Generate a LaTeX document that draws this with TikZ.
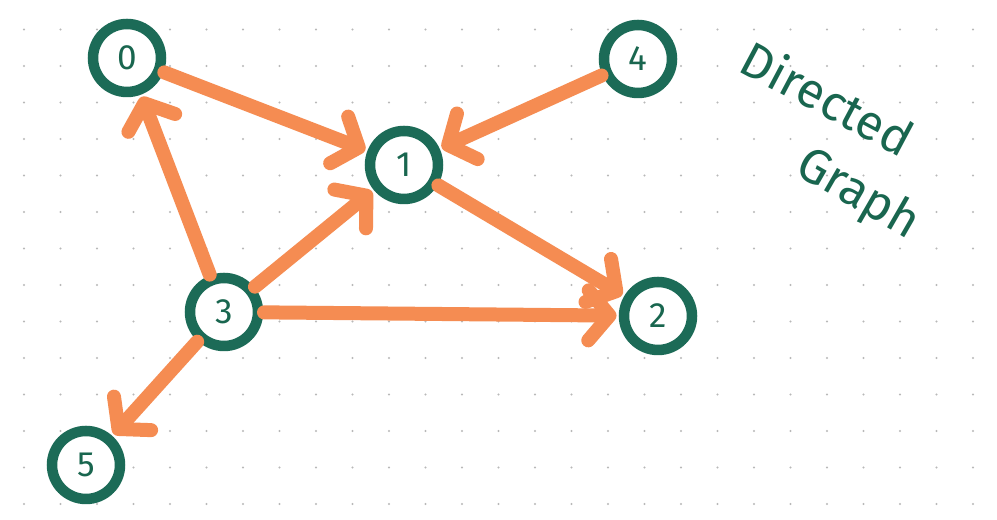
\documentclass[tikz,border=0pt]{standalone}
\usepackage{fontspec}
\setsansfont{Fira Sans}
\usepackage{tikz}
\usepackage{tkz-graph, tkz-berge}
\usetikzlibrary{arrows.meta}

\begin{document}
\begin{tikzpicture}
%
\definecolor{col_ring}{rgb}{0.11,0.42,0.34}
\definecolor{col_lab}{rgb}{0.10,0.40,0.31}
\definecolor{col_edge}{rgb}{0.96,0.55,0.32}
\definecolor{col_dot}{rgb}{0.72,0.72,0.72}
%
\useasboundingbox (0,0) rectangle (19.94,10.4);
\fill[white] (0,0) rectangle (19.94,10.4);
%
\foreach \i in {0,...,26}
  \foreach \j in {0,...,13}
    \fill[col_dot] (0.48+0.73*\i,0.32+0.73*\j) circle (0.022);
%
\GraphInit[vstyle=Normal]
%
\tikzset{VertexStyle/.style={shape=circle, draw=col_ring, line width=0.21cm,
  fill=white, minimum size=1.36cm, inner sep=0pt, text=col_lab,
  font=\sffamily\fontsize{20}{20}\selectfont}}
\tikzset{EdgeStyle/.style={draw=col_edge, line width=0.28cm, line cap=round,
  -{Straight Barb[round,length=0.42cm,width=1.0cm]},
  shorten <=0.12cm, shorten >=0.15cm}}
\tikzset{titletext/.style={text=col_lab, font=\sffamily\fontsize{28}{30}\selectfont}}
%
\Vertex[x=2.54cm,y=9.24cm,L={0}]{a0}
\Vertex[x=8.08cm,y=7.10cm,L={1}]{a1}
\Vertex[x=13.16cm,y=4.08cm,L={2}]{a2}
\Vertex[x=4.48cm,y=4.16cm,L={3}]{a3}
\Vertex[x=12.76cm,y=9.22cm,L={4}]{a4}
\Vertex[x=1.72cm,y=1.10cm,L={5}]{a5}
%
%
\renewcommand*{\EdgeColor}{col_edge}
\Edge(a0)(a1)
\Edge(a4)(a1)
\Edge(a1)(a2)
\Edge(a3)(a0)
\Edge(a3)(a1)
\Edge(a3)(a2)
\Edge(a3)(a5)
%
%
\node[titletext, rotate=-28] (t1) at (16.56,8.45) {Directed};
\node[titletext, rotate=-30] (t2) at (17.15,6.50) {Graph};
%
\end{tikzpicture}
\end{document}
